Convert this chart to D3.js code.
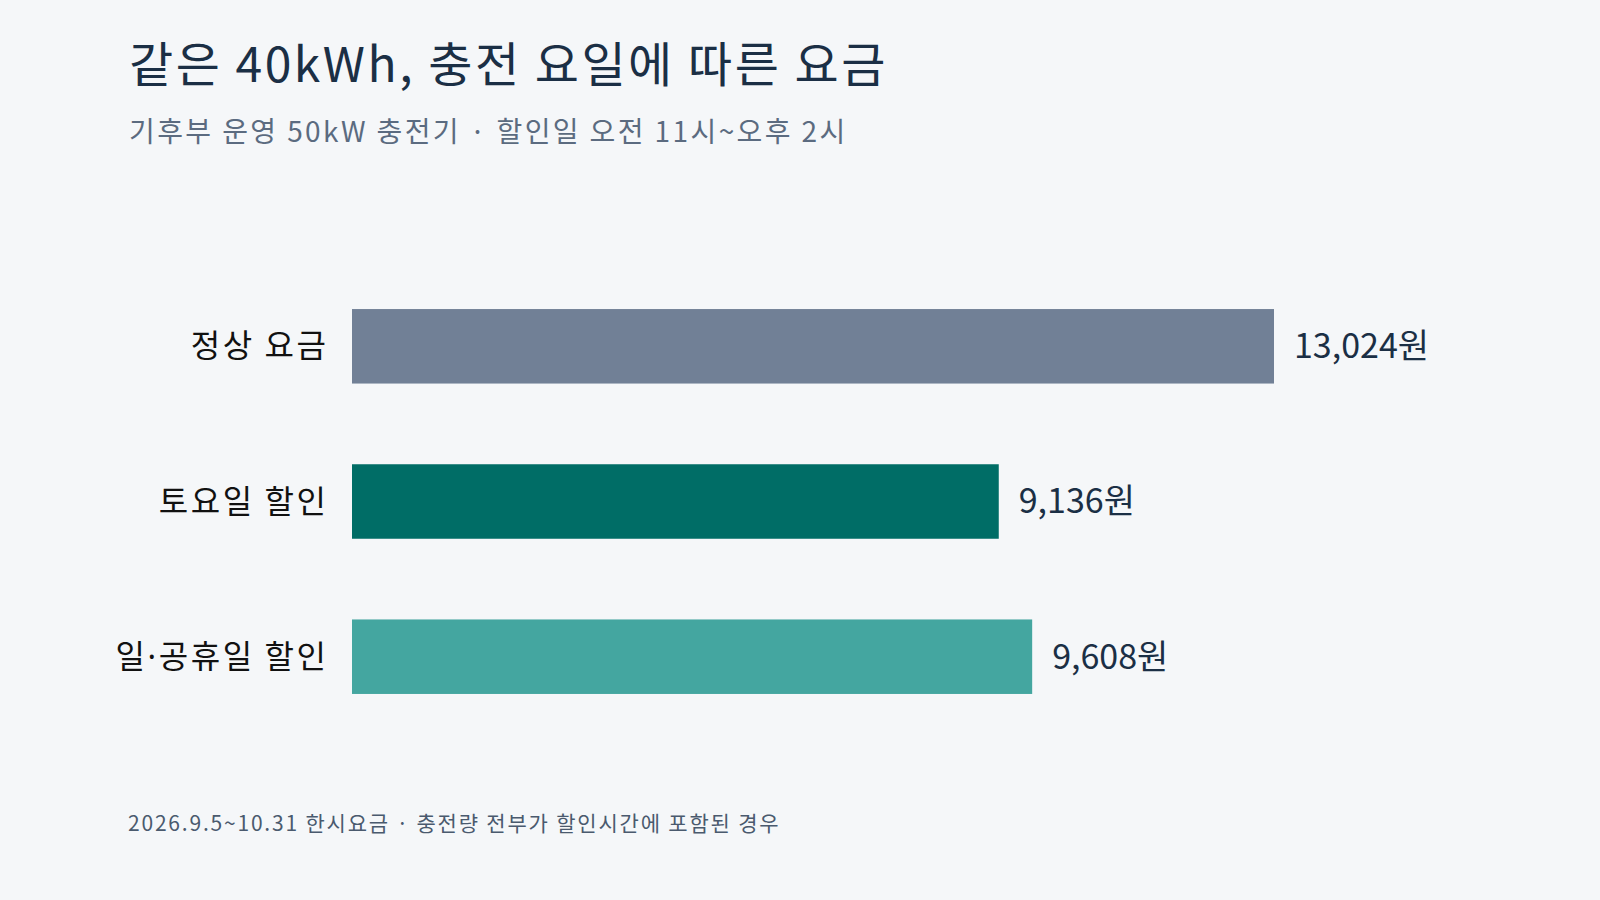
<!DOCTYPE html>
<html>
<head>
<meta charset="utf-8">
<script src="https://cdn.jsdelivr.net/npm/d3@7"></script>
<style>
  html, body { margin: 0; padding: 0; background: #f5f7f9; }
  svg { display: block; font-family: "Noto Sans CJK KR", "Noto Sans", sans-serif; }
</style>
</head>
<body>
<svg id="chart" width="1600" height="900"></svg>
<script>
// 40kWh 충전 요금 (원)
var categories = ["정상 요금", "토요일 할인", "일·공휴일 할인"];
var fees = [13024, 9136, 9608];
var barColors = ["#718096", "#006d66", "#44a6a0"];

var titleText = "같은 40kWh, 충전 요일에 따른 요금";
var subtitleText = "기후부 운영 50kW 충전기 · 할인일 오전 11시~오후 2시";
var footnoteText = "2026.9.5~10.31 한시요금 · 충전량 전부가 할인시간에 포함된 경우";

var svg = d3.select("svg#chart"),
    width = +svg.attr("width"),
    height = +svg.attr("height");

svg.append("rect")
    .attr("width", width)
    .attr("height", height)
    .attr("fill", "#f5f7f9");

var margin = { left: 352, right: 326, top: 278, bottom: 175 };

var x = d3.scaleLinear()
    .domain([0, d3.max(fees)])
    .range([margin.left, width - margin.right]);

var y = d3.scaleBand()
    .domain(categories)
    .range([margin.top, height - margin.bottom])
    .paddingInner(0.52)
    .paddingOuter(0.2);

var data = categories.map(function(c, i) {
    return { name: c, value: fees[i], color: barColors[i] };
});

svg.append("text")
    .attr("x", 129)
    .attr("y", 82)
    .attr("fill", "#1b2f45")
    .style("font-size", "48px")
    .style("letter-spacing", "2.5px")
    .text(titleText);

svg.append("text")
    .attr("x", 129)
    .attr("y", 142)
    .attr("fill", "#5b6b80")
    .style("font-size", "28px")
    .style("letter-spacing", "2.4px")
    .text(subtitleText);

var bars = svg.append("g").attr("class", "bars");

bars.selectAll("rect")
    .data(data)
    .enter().append("rect")
    .attr("x", x(0))
    .attr("y", function(d) { return y(d.name); })
    .attr("width", function(d) { return x(d.value) - x(0); })
    .attr("height", y.bandwidth())
    .attr("fill", function(d) { return d.color; });

// category labels (trailing letter-spacing offset added to x)
var labels = svg.append("g")
    .selectAll("text")
    .data(data)
    .enter().append("text")
    .attr("x", x(0) - 26 + 2.6)
    .attr("y", function(d) { return y(d.name) + y.bandwidth() / 2; })
    .attr("dy", "0.35em")
    .attr("text-anchor", "end")
    .attr("fill", "#111111")
    .style("font-size", "32px")
    .style("letter-spacing", "2.6px");

// the CJK middle dot is full width; draw it from a Latin font so it stays narrow
labels.each(function(d) {
    var t = d3.select(this);
    d.name.split("·").forEach(function(part, i) {
        if (i > 0) {
            t.append("tspan")
                .style("font-family", "'Noto Sans', sans-serif")
                .text("·");
        }
        t.append("tspan").text(part);
    });
});

// value labels
svg.append("g")
    .selectAll("text")
    .data(data)
    .enter().append("text")
    .attr("x", function(d) { return x(d.value) + 20; })
    .attr("y", function(d) { return y(d.name) + y.bandwidth() / 2; })
    .attr("dy", "0.35em")
    .attr("fill", "#1b2f45")
    .style("font-size", "34px")
    .text(function(d) { return d3.format(",")(d.value) + "원"; });

svg.append("text")
    .attr("x", 128)
    .attr("y", 831)
    .attr("fill", "#4a5a6e")
    .style("font-size", "21px")
    .style("letter-spacing", "1.8px")
    .text(footnoteText);
</script>
</body>
</html>
